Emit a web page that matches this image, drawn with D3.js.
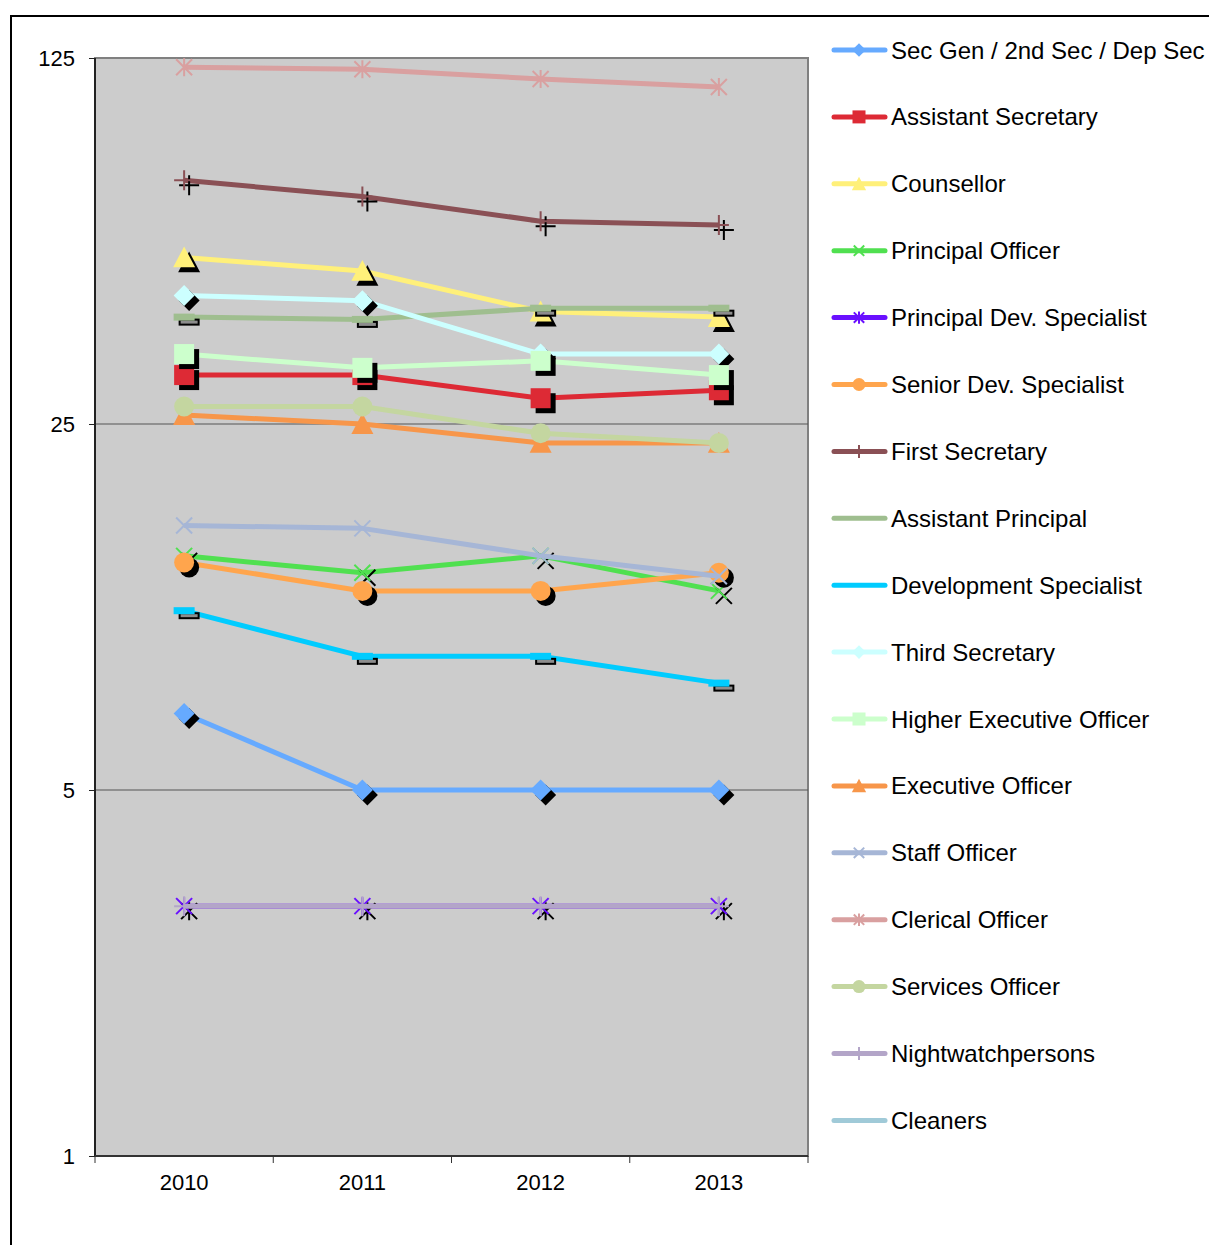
<!DOCTYPE html>
<html><head><meta charset="utf-8">
<script src="https://cdn.jsdelivr.net/npm/d3@7"></script>
<style>html,body{margin:0;padding:0;background:#fff;}svg{display:block;font-family:"Liberation Sans",Arial,sans-serif;}</style>
</head><body>
<svg id="chart" width="1209" height="1245"></svg>
<script>
const years = ["2010","2011","2012","2013"];
const yTickValues = [1,5,25,125];
const seriesNames = ["Sec Gen / 2nd Sec / Dep Sec","Assistant Secretary","Counsellor","Principal Officer","Principal Dev. Specialist","Senior Dev. Specialist","First Secretary","Assistant Principal","Development Specialist","Third Secretary","Higher Executive Officer","Executive Officer","Staff Officer","Clerical Officer","Services Officer","Nightwatchpersons","Cleaners"];
const secGen = [7,5,5,5];
const assistantSecretary = [31,31,28,29];
const counsellor = [52,49,41,40];
const principalOfficer = [14,13,14,12];
const principalDevSpecialist = [3,3,3,3];
const seniorDevSpecialist = [13.6,12,12,13];
const firstSecretary = [73,68,61,60];
const assistantPrincipal = [40,39.6,41.6,41.6];
const developmentSpecialist = [11,9,9,8];
const thirdSecretary = [44,43,34,34];
const higherExecutiveOfficer = [34,32,33,31];
const executiveOfficer = [26,25,23,23];
const staffOfficer = [16,15.8,14,12.8];
const clericalOfficer = [120,119,114,110];
const servicesOfficer = [27,27,24,23];
const nightwatchpersons = [3,3,3,3];
const cleaners = [null,null,null,null];
const seriesValues = [secGen,assistantSecretary,counsellor,principalOfficer,principalDevSpecialist,seniorDevSpecialist,firstSecretary,assistantPrincipal,developmentSpecialist,thirdSecretary,higherExecutiveOfficer,executiveOfficer,staffOfficer,clericalOfficer,servicesOfficer,nightwatchpersons,cleaners];

const colors = ["#66aaff","#dd2a35","#fff07a","#50e050","#6a10ff","#ffa54d","#8a5055","#9fbe8f","#00ccff","#ccffff","#ccffcc","#f7964a","#a6b6d6","#d9a0a0","#c4d6a0","#b3a5c8","#a0cad8"];
const markers = ["diamond","square","triangle","x","asterisk","circle","plus","dash","dash","diamond","square","triangle","x","asterisk","circle","plus","none"];
const shadowCount = 11;

const svg = d3.select("#chart");
const L=95,R=808,T=58,B=1156;
const x = d3.scaleBand().domain(years).range([L,R]);
const cx = d => x(d)+x.bandwidth()/2;
const y = d3.scaleLog().base(5).domain([1,125]).range([B,T]);

// outer frame
svg.append("rect").attr("x",11).attr("y",16).attr("width",1400).attr("height",1400)
  .attr("fill","none").attr("stroke","#000").attr("stroke-width",2);

// plot area
svg.append("rect").attr("x",L).attr("y",T).attr("width",R-L).attr("height",B-T)
  .attr("fill","#cccccc").attr("stroke","#808080").attr("stroke-width",2);

// gridlines
svg.append("g").selectAll("line").data([5,25]).join("line")
  .attr("x1",L).attr("x2",R).attr("y1",d=>y(d)).attr("y2",d=>y(d))
  .attr("stroke","#555").attr("stroke-width",1);

// left axis
const yAxis = svg.append("g").attr("transform",`translate(${L},0)`)
  .call(d3.axisLeft(y).tickValues(yTickValues).tickSize(6).tickPadding(14).tickFormat(d3.format("d")));
yAxis.select(".domain").attr("stroke","#222").attr("stroke-width",2).attr("d",`M0,${T}V${B}`);
yAxis.selectAll(".tick line").attr("stroke","#222");
yAxis.selectAll(".tick text").attr("font-size",22).attr("fill","#000").attr("font-family","Liberation Sans, Arial, sans-serif");

// bottom axis
const xAxis = svg.append("g").attr("transform",`translate(0,${B})`)
  .call(d3.axisBottom(x).tickSize(0).tickPadding(18));
xAxis.select(".domain").attr("stroke","#333").attr("stroke-width",2).attr("d",`M${L},0H${R}`);
xAxis.selectAll(".tick text").attr("font-size",22).attr("fill","#000").attr("font-family","Liberation Sans, Arial, sans-serif");
const bounds = years.map(d=>x(d)).concat([x.range()[1]]);
xAxis.append("g").selectAll("line").data(bounds).join("line")
  .attr("x1",d=>d).attr("x2",d=>d).attr("y1",0).attr("y2",7).attr("stroke","#333").attr("stroke-width",1);

function drawMarker(g, type, px, py, color, k, shadow){
  const fill = shadow ? "#000" : color;
  if(type==="none") return;
  if(type==="diamond"){
    const s=10.5*k;
    g.append("path").attr("d",`M${px},${py-s}L${px+s},${py}L${px},${py+s}L${px-s},${py}Z`).attr("fill",fill);
  } else if(type==="square"){
    const s=10*k;
    g.append("rect").attr("x",px-s).attr("y",py-s).attr("width",2*s).attr("height",2*s).attr("fill",fill);
  } else if(type==="triangle"){
    const s=11*k;
    g.append("path").attr("d",`M${px},${py-s}L${px+s},${py+s*0.9}L${px-s},${py+s*0.9}Z`).attr("fill",fill);
  } else if(type==="circle"){
    g.append("circle").attr("cx",px).attr("cy",py).attr("r",10*k).attr("fill",fill);
  } else if(type==="x"){
    const s=8*k;
    g.append("path").attr("d",`M${px-s},${py-s}L${px+s},${py+s}M${px-s},${py+s}L${px+s},${py-s}`)
      .attr("stroke",fill).attr("stroke-width",2).attr("fill","none");
  } else if(type==="asterisk"){
    const s=8*k;
    g.append("path").attr("d",`M${px-s},${py-s}L${px+s},${py+s}M${px-s},${py+s}L${px+s},${py-s}M${px},${py-s-1}L${px},${py+s+1}`)
      .attr("stroke",fill).attr("stroke-width",2).attr("fill","none");
  } else if(type==="plus"){
    const s=10*k;
    g.append("path").attr("d",`M${px-s},${py}L${px+s},${py}M${px},${py-s}L${px},${py+s}`)
      .attr("stroke",fill).attr("stroke-width",2).attr("fill","none");
  } else if(type==="dash"){
    const w=19*k,h=5*k;
    g.append("rect").attr("x",px-w/2).attr("y",py-h/2).attr("width",w).attr("height",h)
      .attr("fill",shadow?"#8c8c8c":color).attr("stroke",shadow?"#000":color).attr("stroke-width",2);
  }
}

const line = d3.line().defined(d=>d.v!=null).x(d=>cx(d.year)).y(d=>y(d.v));
const plot = svg.append("g");
seriesValues.forEach((vals,i)=>{
  const pts = years.map((yr,j)=>({year:yr,v:vals[j]}));
  const g = plot.append("g");
  g.append("path").datum(pts).attr("d",line).attr("fill","none")
    .attr("stroke",colors[i]).attr("stroke-width",5).attr("stroke-linejoin","round");
  pts.filter(p=>p.v!=null).forEach(p=>{
    if(i<shadowCount) drawMarker(g, markers[i], cx(p.year)+5, y(p.v)+5, colors[i], 1, true);
    drawMarker(g, markers[i], cx(p.year), y(p.v), colors[i], 1, false);
  });
});

// legend
const leg = svg.append("g");
seriesNames.forEach((name,i)=>{
  const cy = 50 + i*66.9;
  const g = leg.append("g");
  g.append("line").attr("x1",834).attr("x2",885).attr("y1",cy).attr("y2",cy)
    .attr("stroke",colors[i]).attr("stroke-width",5).attr("stroke-linecap","round");
  drawMarker(g, markers[i]==="dash"?"none":markers[i], 859, cy, colors[i], 0.65, false);
  g.append("text").attr("x",891).attr("y",cy+8.5).attr("font-size",24).attr("fill","#000").text(name);
});
</script>
</body></html>
